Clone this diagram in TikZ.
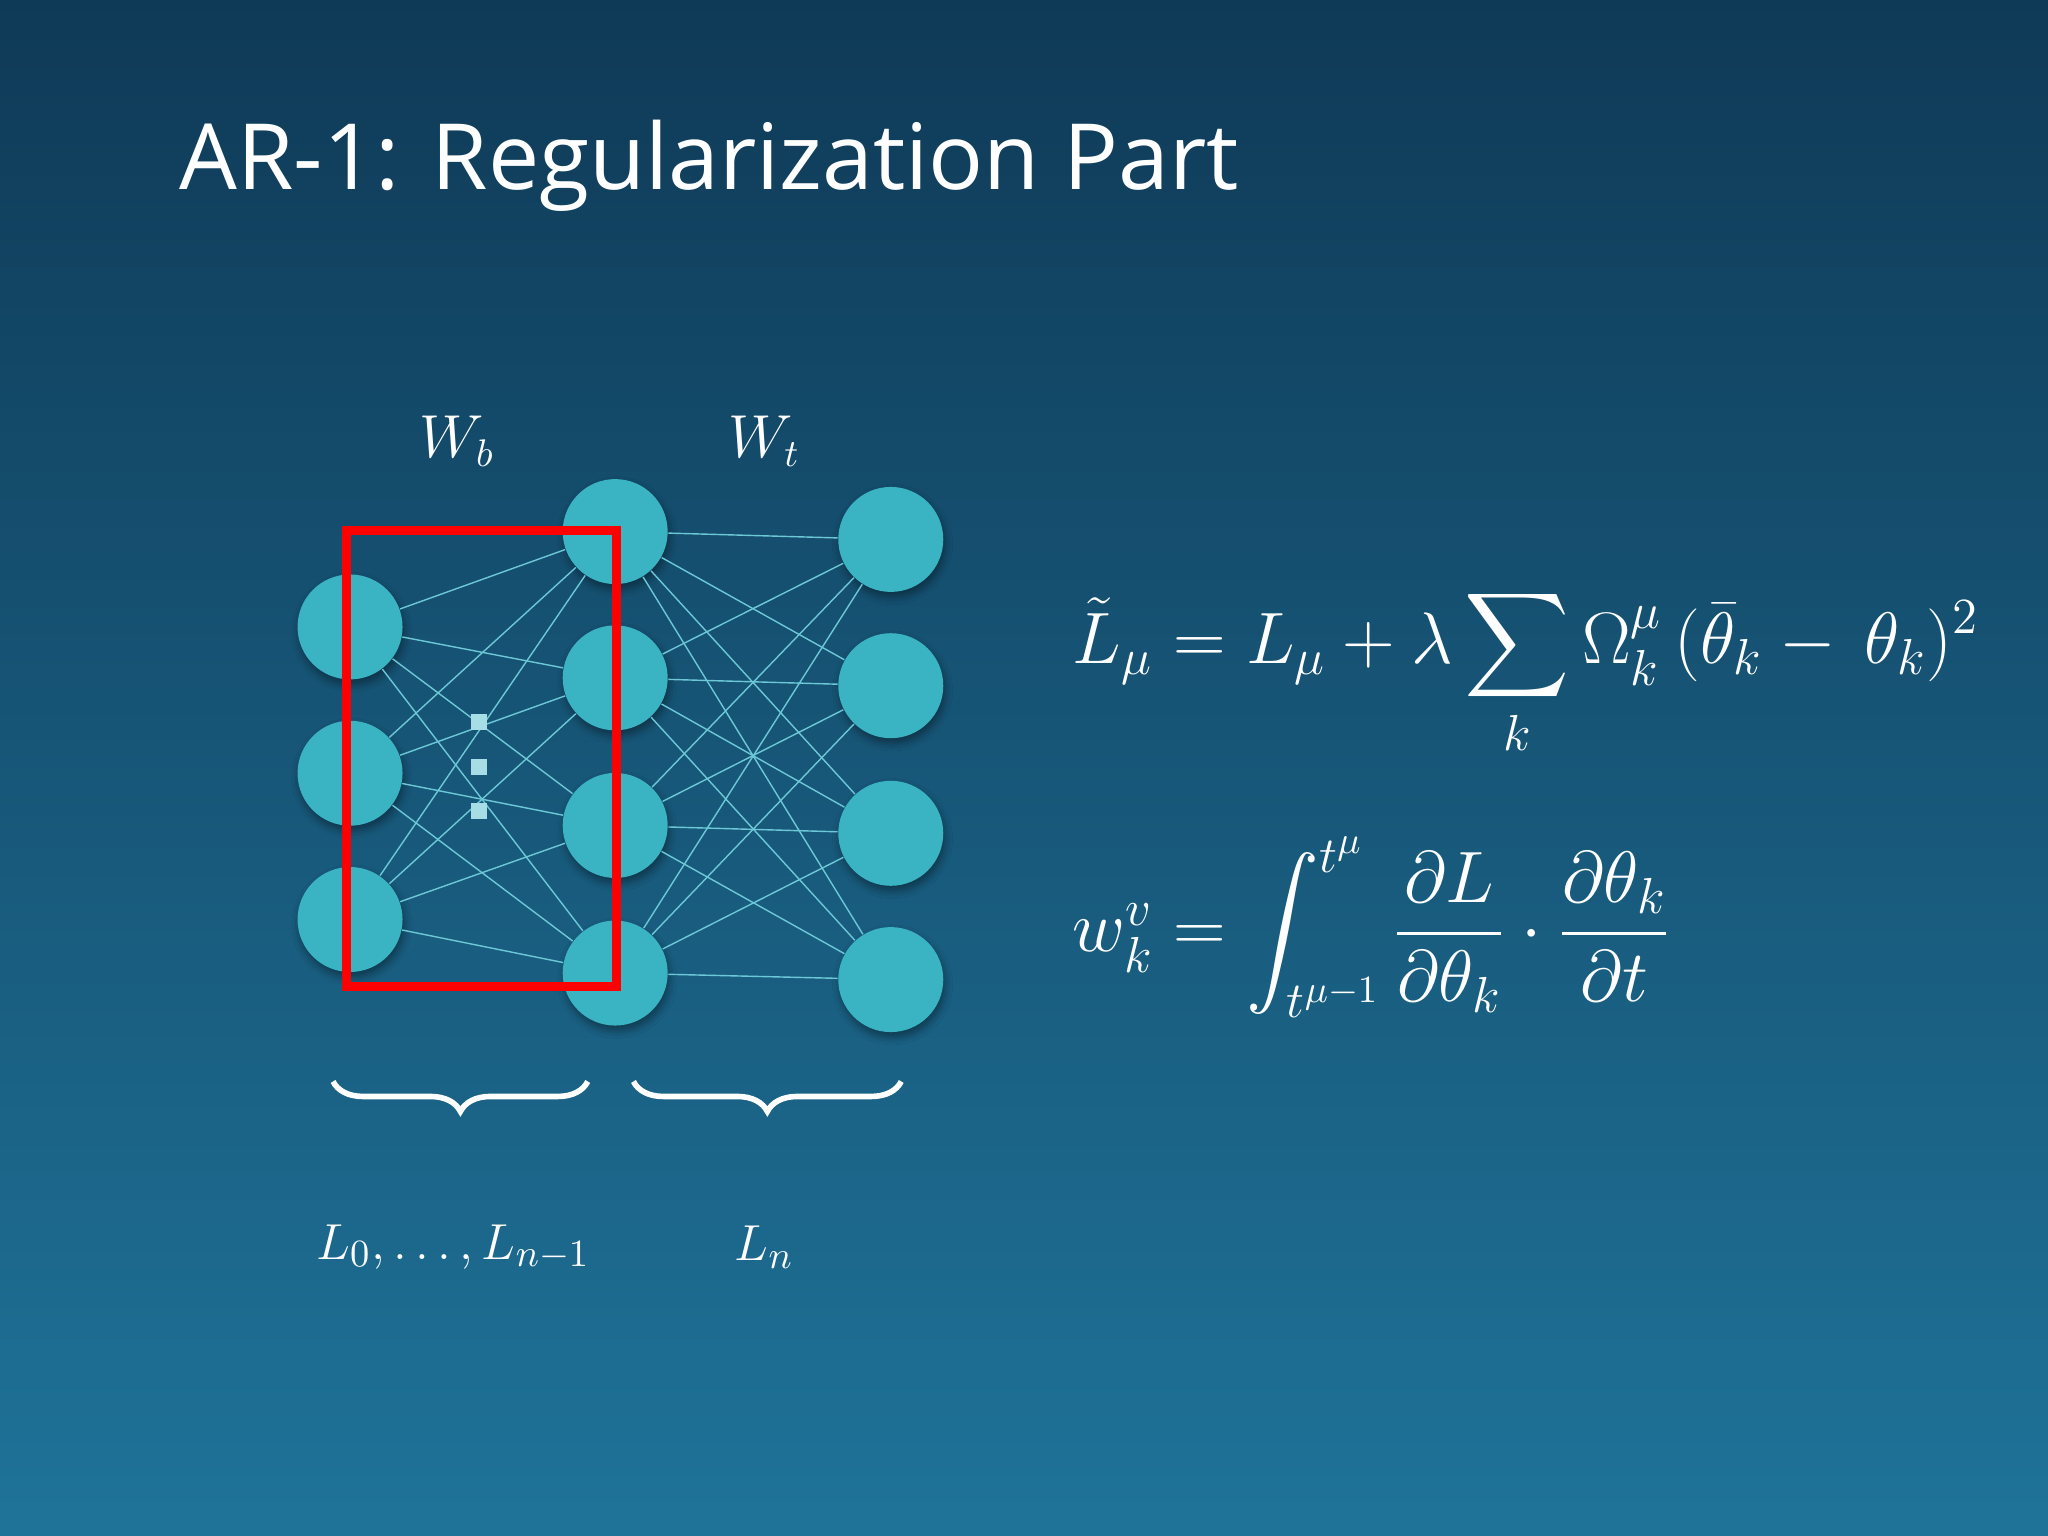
\documentclass[tikz,border=0pt]{standalone}
\usepackage{fontspec}
\setmainfont{Open Sans}
\usepackage{amsmath}
\usetikzlibrary{decorations.pathreplacing, shadows.blur}

\definecolor{bgtop}{HTML}{0F3A57}
\definecolor{bgbot}{HTML}{1F7399}
\definecolor{neuron}{HTML}{3AB3C3}
\definecolor{edgecol}{HTML}{6CC8D6}

\begin{document}
\begin{tikzpicture}[x=0.01306cm,y=-0.01306cm,
			neuron/.style = {circle,fill=neuron,minimum size=1.05cm,inner sep=0pt,blur shadow={shadow blur steps=5,shadow xshift=0.5pt,shadow yshift=-1.5pt}},
			link/.style = {draw=edgecol,line width=0.4pt},
			brc/.style = {draw=white,line width=1.6pt,decorate,decoration={brace,mirror,amplitude=0.3cm}},
			lbl/.style = {text=white,font=\fontsize{15}{18}\selectfont}]
			\shade[top color=bgtop,bottom color=bgbot] (0,0) rectangle (1568,1176);
			\node [anchor=west, text=white, font=\fontsize{26}{31}\selectfont] (title) at (128,127) {AR-1: Regularization Part};
			% layers
			\foreach \i/\y in {1/480,2/592,3/704}
			\node [neuron] (a\i) at (268,\y) {};
			\foreach \i/\y in {1/407,2/519,3/632,4/745}
			\node [neuron] (b\i) at (471,\y) {};
			\foreach \i/\y in {1/413,2/525,3/638,4/750}
			\node [neuron] (c\i) at (682,\y) {};
			\foreach \i in {1,2,3}
			\foreach \j in {1,2,3,4}
			\draw [link] (a\i) -- (b\j);
			\foreach \i in {1,2,3,4}
			\foreach \j in {1,2,3,4}
			\draw [link] (b\i) -- (c\j);
			% dots
			\foreach \y in {553,587,621}
			\node [fill=edgecol!60!white,minimum size=0.16cm,inner sep=0pt] at (367,\y) {};
			\draw [red,line width=2.5pt] (265,406) rectangle (472,755);
			% labels
			\node [lbl,font=\fontsize{16}{19}\selectfont] (wb) at (350,338) {$W_b$};
			\node [lbl,font=\fontsize{16}{19}\selectfont] (wt) at (585,338) {$W_t$};
			\coordinate (p1) at (255,828); \coordinate (p2) at (450,828);
			\coordinate (p3) at (485,828); \coordinate (p4) at (690,828);
			\draw [brc] (p1) -- (p2);
			\draw [brc] (p3) -- (p4);
			\node [lbl] (l0) at (347,955) {$L_0,\dots,L_{n-1}$};
			\node [lbl] (ln) at (585,955) {$L_n$};
			\node [lbl,anchor=west,font=\fontsize{22}{26}\selectfont] (eq1) at (812,515)
			{$\tilde L_\mu = L_\mu + \lambda \displaystyle\sum_k \Omega_k^\mu\,(\bar\theta_k - \,\theta_k)^2$};
			\node [lbl,anchor=west,font=\fontsize{22}{26}\selectfont] (eq2) at (812,710)
			{$w_k^v = \displaystyle\int_{t^{\mu-1}}^{t^\mu} \frac{\partial L}{\partial\theta_k}\cdot\frac{\partial\theta_k}{\partial t}$};
		\end{tikzpicture}
\end{document}
